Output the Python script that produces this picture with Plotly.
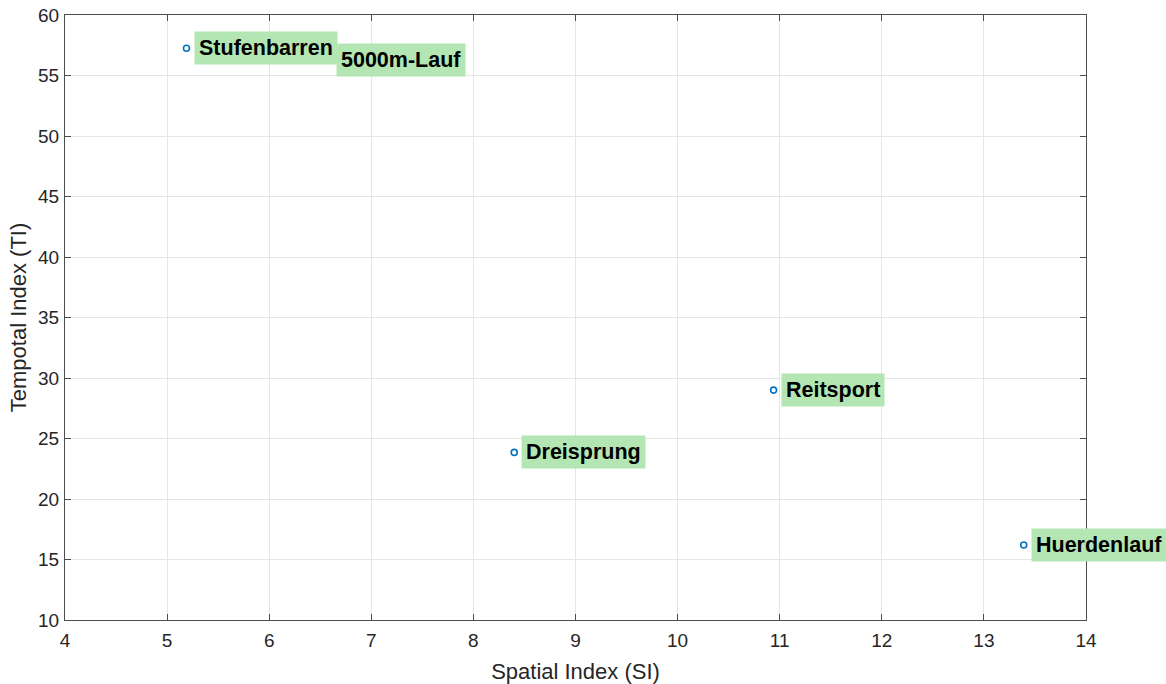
import plotly.graph_objects as go

names = ["Stufenbarren", "5000m-Lauf", "Dreisprung", "Reitsport", "Huerdenlauf"]
si = [5.19, 6.59, 8.40, 10.94, 13.39]
ti = [57.25, 56.3, 23.85, 29.0, 16.2]

x_ticks = [4, 5, 6, 7, 8, 9, 10, 11, 12, 13, 14]
y_ticks = [10, 15, 20, 25, 30, 35, 40, 45, 50, 55, 60]

FONT = "Arial, Liberation Sans, Helvetica, sans-serif"

fig = go.Figure()
fig.add_trace(go.Scatter(
    x=si, y=ti, mode="markers",
    marker=dict(symbol="circle-open", size=6, color="#0072BD", line=dict(width=1.6, color="#0072BD")),
    hoverinfo="text", text=names, showlegend=False,
))

for n, x, y in zip(names, si, ti):
    fig.add_annotation(
        x=x, y=y, text="<b>%s</b>" % n, showarrow=False,
        xanchor="left", yanchor="middle", xshift=7,
        bgcolor="#b3e6b3", borderpad=4,
        font=dict(family=FONT, size=21.5, color="black"),
    )

axis_common = dict(
    showline=True, linecolor="#4d4d4d", linewidth=1, mirror="ticks",
    ticks="inside", ticklen=6, tickcolor="#4d4d4d",
    showgrid=True, gridcolor="#e6e6e6", gridwidth=1,
    zeroline=False, automargin=False, ticklabeloverflow="allow",
    tickfont=dict(family=FONT, size=19, color="#262626"),
)

fig.update_layout(
    width=1166, height=684,
    margin=dict(l=65, r=80, t=15, b=64),
    plot_bgcolor="white", paper_bgcolor="white",
    xaxis=dict(range=[4, 14], tickvals=x_ticks, ticklabelstandoff=3,
               title=dict(text="Spatial Index (SI)", standoff=18,
                          font=dict(family=FONT, size=22, color="#262626")),
               **axis_common),
    yaxis=dict(range=[10, 60], tickvals=y_ticks, ticklabelstandoff=1,
               title=dict(text="Tempotal Index (TI)", standoff=5,
                          font=dict(family=FONT, size=22, color="#262626")),
               **axis_common),
)

fig.write_html(
    "out.html",
    config={"displayModeBar": False},
    post_script="document.body.style.margin='0';document.body.style.overflow='hidden';",
)
